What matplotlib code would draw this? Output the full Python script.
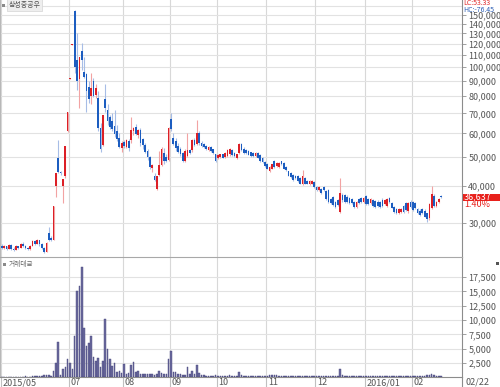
import matplotlib
matplotlib.use('Agg')
import matplotlib.pyplot as plt
import matplotlib.transforms as mtransforms
from matplotlib.patches import Rectangle
from matplotlib.lines import Line2D
from matplotlib.ticker import FixedLocator, NullLocator
import numpy as np
import pandas as pd

# 거래일 (한국 증시 휴장일 제외)
holidays = ['2015-05-25', '2015-08-14', '2015-09-28', '2015-09-29', '2015-10-09',
            '2015-12-25', '2015-12-31', '2016-01-01', '2016-02-08', '2016-02-09',
            '2016-02-10']
dates = pd.bdate_range('2015-05-20', '2016-02-22', freq='C', holidays=holidays)

opens = [25200, 24800, 25100, 24600, 25300, 24500, 24400, 25100, 24800, 25400,
         25200, 24700, 24500, 25200, 26000, 25500, 26200, 25400, 24700, 24000,
         27800, 26700, 26300, 39800, 49600, 44600, 40000, 43000, 61000, 91500,
         119000, 155000, 106000, 91000, 113000, 96500, 95000, 86000, 80000, 90000,
         80500, 79000, 62500, 55000, 78000, 72000, 68000, 66000, 63500, 61000,
         58000, 53500, 56000, 54000, 56500, 57000, 61000, 63000, 59000, 61500,
         57500, 54800, 52500, 50000, 46000, 43300, 39000, 43500, 47000, 51500,
         50000, 49000, 67000, 58000, 56500, 54500, 53000, 51500, 48500, 50300,
         52800, 52800, 57000, 55300, 60000, 55800, 55200, 54500, 52800, 54000,
         53000, 51000, 49700, 49800, 51000, 50000, 50300, 51000, 52800, 51700,
         49700, 51500, 55200, 53300, 52800, 52500, 51800, 51500, 50300, 51500,
         50900, 49700, 48000, 47300, 44700, 45700, 48400, 46500, 46300, 48300,
         47800, 46200, 44700, 44200, 43600, 43100, 43100, 42600, 40600, 42600,
         41600, 40600, 40700, 41100, 39600, 38700, 39100, 39600, 38400, 38700,
         36100, 36600, 35200, 35700, 32700, 37300, 37300, 36800, 36400, 36100,
         35200, 34000, 36000, 36300, 35300, 37000, 36200, 35000, 35900, 35500,
         35400, 35300, 35900, 34800, 34300, 36400, 35000, 33900, 33500, 32400,
         32700, 34300, 35000, 32800, 35300, 35300, 35000, 33500, 33000, 33500,
         33000, 32300, 31200, 33800, 37000, 34300, 35300, 37000]
highs = [25400, 25300, 25200, 25500, 25400, 24900, 25300, 25200, 25600, 25800,
         25300, 25000, 25300, 26200, 26300, 26500, 26400, 25600, 24900, 25800,
         29000, 27100, 34100, 44300, 57000, 45000, 42200, 54600, 71000, 92300,
         120000, 156000, 130000, 108500, 121000, 108000, 96000, 90000, 95500, 92000,
         88000, 83000, 65000, 68900, 88000, 75000, 69000, 70000, 72000, 64000,
         60000, 56500, 57000, 57500, 57500, 68000, 63000, 64500, 62000, 62500,
         58000, 55500, 53000, 50500, 47500, 44000, 43300, 52500, 54000, 53500,
         51000, 63000, 70000, 60000, 58000, 55500, 54000, 52000, 53000, 60100,
         53200, 57500, 58000, 66400, 61000, 56500, 55800, 55000, 54300, 54500,
         53300, 51300, 51200, 51300, 51300, 51800, 53000, 53500, 53200, 52000,
         51200, 55500, 55800, 53800, 53200, 52800, 52000, 51800, 51800, 51800,
         51200, 50000, 48300, 47600, 46500, 47500, 48700, 48000, 48000, 48600,
         48000, 46500, 45000, 44500, 43900, 43400, 43400, 42900, 45200, 42900,
         41900, 41900, 41900, 41400, 39900, 39800, 39400, 39900, 38700, 39000,
         36400, 36900, 35500, 36000, 42400, 37800, 37600, 37100, 36700, 36400,
         35500, 35500, 36300, 36600, 36700, 37300, 36500, 36500, 36200, 35800,
         35700, 35600, 36300, 36200, 36400, 36700, 35300, 34200, 33800, 33800,
         33800, 34600, 35300, 35200, 35800, 35600, 35300, 33800, 33300, 33800,
         33300, 32500, 35000, 40000, 37500, 35500, 36500, 37300]
lows = [24600, 24500, 24400, 24500, 24300, 24200, 24300, 24600, 24700, 25000,
        24500, 24300, 24400, 25100, 25300, 25400, 25200, 24500, 23800, 23900,
        26000, 26100, 26200, 36700, 44300, 43600, 35000, 42500, 60500, 91500,
        119000, 96000, 84000, 73000, 98000, 92000, 71000, 76000, 75500, 79500,
        79000, 61000, 52000, 54500, 70700, 64000, 62000, 61000, 58500, 56500,
        53500, 52000, 53500, 53500, 52500, 55500, 59000, 59000, 58000, 54500,
        53000, 51500, 49000, 45500, 44500, 41500, 38800, 43000, 46500, 47500,
        48000, 48500, 61000, 55000, 52500, 51500, 50500, 48000, 48000, 49800,
        51000, 52000, 54500, 55000, 55000, 54000, 53500, 52800, 52500, 52000,
        51000, 48200, 49300, 49500, 49500, 49700, 50000, 50500, 50500, 50000,
        49300, 51000, 52500, 51300, 51200, 50600, 50000, 50000, 50000, 49500,
        48200, 47800, 46400, 45400, 44400, 45400, 45900, 46200, 46000, 47000,
        45500, 44900, 43000, 42500, 41600, 42100, 41100, 40400, 40300, 40400,
        40400, 40300, 40400, 39400, 38500, 38400, 37600, 38400, 35900, 35000,
        34800, 34200, 33700, 34200, 32500, 35400, 34900, 35000, 34700, 34700,
        33700, 33800, 34800, 35000, 35000, 34600, 34500, 34700, 34000, 33700,
        34000, 33600, 34000, 34500, 34000, 35000, 33600, 32500, 32200, 32200,
        32500, 32500, 33000, 32500, 33800, 33000, 33500, 32200, 31600, 32200,
        31300, 30300, 30800, 33500, 34000, 34000, 35000, 36300]
closes = [24700, 25100, 24600, 25300, 24500, 24400, 25100, 24800, 25400, 25200,
          24700, 24500, 25200, 26000, 25500, 26200, 25400, 24700, 24000, 25600,
          26300, 26300, 34100, 44300, 44600, 44000, 42000, 54600, 71000, 92300,
          120000, 100000, 90000, 108000, 106000, 92500, 83000, 78000, 85000, 80000,
          85000, 62500, 53000, 68900, 73000, 66000, 63000, 61800, 59500, 57500,
          54000, 55500, 54500, 57000, 53500, 61500, 62500, 59500, 61500, 55500,
          54800, 52000, 50000, 46200, 47000, 41800, 43000, 47000, 53000, 48600,
          48500, 62500, 61800, 55400, 53500, 52000, 51000, 48600, 52500, 52800,
          51500, 56900, 55000, 60100, 55500, 54500, 54000, 53300, 54000, 52400,
          51500, 48500, 50900, 51000, 49700, 51500, 52800, 53300, 50900, 50300,
          51000, 55200, 52800, 51500, 51500, 50900, 50300, 50300, 51500, 49700,
          48400, 48000, 46600, 45700, 46200, 47300, 46200, 47800, 47800, 47300,
          45700, 45100, 43200, 42800, 41800, 42400, 41400, 40600, 43100, 40600,
          40600, 41600, 41600, 39600, 38700, 39600, 37900, 38700, 36100, 35200,
          35000, 34400, 33900, 34400, 37700, 35700, 35200, 35200, 35000, 35000,
          33900, 35200, 35000, 35300, 36300, 34800, 34800, 36200, 34300, 33900,
          34300, 33900, 34300, 35800, 36100, 35300, 33800, 32700, 32400, 33500,
          33500, 32700, 33200, 35000, 34000, 33200, 33700, 32400, 31900, 32400,
          31500, 31000, 34800, 37500, 34300, 35300, 36131, 36637]
# 거래대금 (백만원)
amounts = [90, 110, 80, 100, 120, 90, 100, 130, 110, 90,
           140, 120, 100, 150, 250, 200, 300, 250, 350, 400,
           420, 300, 1100, 2450, 6220, 350, 1400, 1750, 3200, 2550,
           1450, 7280, 15090, 15900, 19340, 8560, 5470, 5940, 7220, 3500,
           2900, 3320, 1750, 2850, 10200, 4900, 3200, 1980, 2500, 980,
           1150, 700, 2320, 600, 700, 2150, 2670, 900, 1150, 600,
           600, 600, 500, 500, 500, 350, 600, 1100, 700, 500,
           500, 3260, 4600, 850, 850, 550, 550, 400, 400, 1860,
           600, 1100, 600, 2150, 800, 450, 400, 300, 250, 300,
           250, 350, 300, 250, 200, 250, 300, 350, 250, 200,
           250, 1000, 450, 300, 250, 200, 200, 150, 200, 180,
           200, 250, 300, 300, 350, 400, 450, 400, 300, 250,
           200, 200, 250, 200, 150, 150, 200, 180, 300, 200,
           150, 150, 200, 180, 200, 150, 200, 150, 250, 300,
           250, 200, 250, 200, 1450, 450, 300, 250, 200, 200,
           200, 180, 200, 150, 150, 200, 180, 150, 150, 200,
           180, 150, 150, 200, 180, 150, 200, 250, 200, 150,
           150, 180, 200, 250, 200, 200, 180, 200, 250, 200,
           250, 350, 450, 650, 400, 300, 250, 200]

price_ticks = [30000, 40000, 50000, 60000, 70000, 80000, 90000, 100000,
               110000, 120000, 130000, 140000, 150000]
amount_ticks = [2500, 5000, 7500, 10000, 12500, 15000, 17500]
month_keys = ['2015-05', '2015-07', '2015-08', '2015-09', '2015-10',
              '2015-11', '2015-12', '2016-01', '2016-02']
month_labels = ['2015/05', '07', '08', '09', '10', '11', '12', '2016/01', '02']

last_change = '1.40%'
lc_text = 'LC:53.33'
hc_text = 'HC:-76.45'

plt.rcParams['font.family'] = ['Liberation Sans Narrow', 'Noto Sans CJK KR', 'DejaVu Sans']
kfont = ['Noto Sans CJK KR', 'DejaVu Sans']

W, H = 500, 387
fig = plt.figure(figsize=(5, 3.87), dpi=100)
ax = fig.add_axes([0, 1 - 257 / H, 462 / W, 257 / H])
axv = fig.add_axes([0, 1 - 377.3 / H, 462 / W, 120.3 / H], sharex=ax)

x = np.arange(len(dates))
o = np.array(opens)
h = np.array(highs)
l = np.array(lows)
c = np.array(closes)
up = c >= o

ym = dates.strftime('%Y-%m')
month_pos = [np.argmax(ym == k) - 0.5 for k in month_keys]

# 캔들
ax.vlines(x[up], l[up], h[up], color='#f2a3a3', lw=0.8, zorder=3)
ax.vlines(x[~up], l[~up], h[~up], color='#a7bde6', lw=0.8, zorder=3)
ax.bar(x[up], c[up] - o[up], bottom=o[up], width=0.72, color='#dc1f26', lw=0, zorder=4)
ax.bar(x[~up], o[~up] - c[~up], bottom=c[~up], width=0.72, color='#1c5dc0', lw=0, zorder=4)

ax.set_yscale('log')
ax.set_ylim(23060, 168200)
ax.set_xlim(-0.8, 195.9)
ax.yaxis.set_major_locator(FixedLocator(price_ticks))
ax.yaxis.set_minor_locator(NullLocator())
ax.set_yticklabels(['{:,}'.format(v) for v in price_ticks])
ax.yaxis.tick_right()
ax.axhline(160000, color='#e2e2e2', lw=0.8, zorder=0)

# 거래대금
axv.bar(x, amounts, width=0.66, color='#6b6a9e', edgecolor='#45447a', lw=0.3, zorder=3)
axv.set_ylim(0, 21030)
axv.yaxis.set_major_locator(FixedLocator(amount_ticks))
axv.set_yticklabels(['{:,}'.format(v) for v in amount_ticks])
axv.yaxis.tick_right()

for a in (ax, axv):
    a.set_facecolor('white')
    a.set_xticks(month_pos)
    a.grid(axis='y', color='#e2e2e2', lw=0.8, zorder=0)
    a.grid(axis='x', color='#d8d8d8', lw=0.8, zorder=0)
    a.tick_params(axis='y', direction='out', length=3, width=0.6, color='#909090',
                  labelsize=6.5, labelcolor='#555555', pad=1.5)
    a.spines['left'].set_color('#b8b8b8')
    a.spines['right'].set_color('#8c8c8c')
    for s in a.spines.values():
        s.set_linewidth(0.8)

ax.spines['top'].set_visible(False)
ax.spines['bottom'].set_visible(False)
ax.tick_params(axis='x', length=0, labelbottom=False)
axv.spines['top'].set_color('#a8a8a8')
axv.spines['bottom'].set_color('#8c8c8c')
axv.tick_params(axis='x', direction='out', length=7.5, width=0.8, color='#c0c0c0',
                labelbottom=False)

tr = mtransforms.blended_transform_factory(axv.transData, axv.transAxes)
for p, lab in zip(month_pos, month_labels):
    axv.text(p + 0.7, -0.045, lab, transform=tr, ha='left', va='center',
             fontsize=6.5, color='#555555', clip_on=False)
fig.text(465 / W, 1 - 382.5 / H, dates[-1].strftime('%m/%d'), ha='left', va='center',
         fontsize=6.5, color='#555555')
fig.add_artist(Line2D([462 / W, 462 / W], [1 - 387 / H, 1 - 377 / H],
                      color='#8c8c8c', lw=0.8))

# 현재가 표시
trp = mtransforms.blended_transform_factory(fig.transFigure, ax.transData)
fig.add_artist(Rectangle((462.5 / W, 35600), 38 / W, 37660 - 35600, transform=trp,
                         facecolor='#e8211c', edgecolor='none'))
fig.text(464 / W, closes[-1], '{:,}'.format(closes[-1]), transform=trp, ha='left',
         va='center', fontsize=6.5, color='white')
ax.annotate(last_change, xy=(464 / W, closes[-1]), xycoords=trp, xytext=(0, -7.5),
            textcoords='offset pixels', ha='left', va='center', fontsize=6.5,
            color='#e8211c', annotation_clip=False)

fig.text(463 / W, 1 - 3.3 / H, lc_text, ha='left', va='center', fontsize=5, color='#e02a2a')
fig.text(463 / W, 1 - 9.8 / H, hc_text, ha='left', va='center', fontsize=5, color='#2d5fb5')

# 제목 / 지표명
fig.add_artist(Rectangle((2 / W, 1 - 7 / H), 3 / W, 3 / H, facecolor='#8a8a8a', edgecolor='none'))
fig.text(8.5 / W, 1 - 5 / H, '삼성중공우', ha='left', va='center', fontsize=5,
         color='#555555', family=kfont,
         bbox=dict(boxstyle='square,pad=0.25', fc='#eeeeee', ec='#d4d4d4', lw=0.5))
fig.add_artist(Rectangle((3 / W, 1 - 265.5 / H), 3 / W, 3 / H, facecolor='#8a8a8a', edgecolor='none'))
fig.text(9 / W, 1 - 264 / H, '거래대금', ha='left', va='center', fontsize=4.8,
         color='#666666', family=kfont)
fig.add_artist(Rectangle((496 / W, 1 - 264.5 / H), 3 / W, 3 / H, facecolor='#555555', edgecolor='none'))

fig.savefig('out.png', dpi=100)
